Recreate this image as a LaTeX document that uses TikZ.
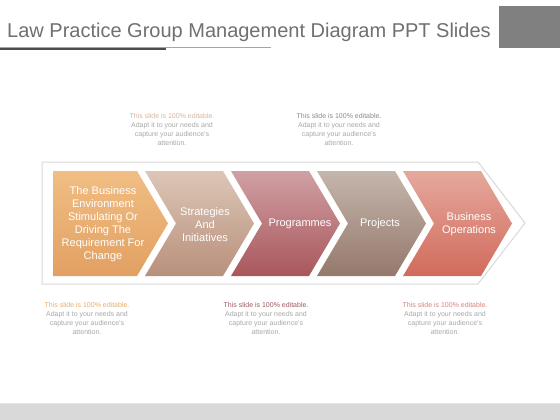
\documentclass[tikz,border=0pt]{standalone}
\usepackage{fontspec}
\setmainfont{Liberation Sans}
\definecolor{titlegray}{HTML}{707070}
\definecolor{capgray}{HTML}{A8A8A8}
\definecolor{c1t}{HTML}{F0BE84}\definecolor{c1b}{HTML}{E2A062}
\definecolor{c2t}{HTML}{DCC6B6}\definecolor{c2b}{HTML}{B8907C}
\definecolor{c3t}{HTML}{D0A0A4}\definecolor{c3b}{HTML}{A8575C}
\definecolor{c4t}{HTML}{C4B6AC}\definecolor{c4b}{HTML}{95786C}
\definecolor{c5t}{HTML}{E6A89C}\definecolor{c5b}{HTML}{D06B5C}
\definecolor{hA}{HTML}{D8B49C}\definecolor{hB}{HTML}{8A8A8A}
\definecolor{hC}{HTML}{E8AE6C}\definecolor{hD}{HTML}{9C5A62}\definecolor{hE}{HTML}{D6837A}
\tikzset{
  chevtext/.style={text=white, align=center, font=\fontsize{11}{13}\selectfont, inner sep=0pt},
  captext/.style={text=capgray, align=center, font=\fontsize{7}{9}\selectfont, inner sep=0pt}
}
\newcommand{\captxt}[1]{\textcolor{#1}{This slide is 100\% editable.}\\Adapt it to your needs and\\capture your audience's\\attention.}
\begin{document}
\begin{tikzpicture}[x=1pt,y=-1pt]
\useasboundingbox (0,0) rectangle (560,420);
\fill[white] (0,0) rectangle (560,420);
% title
\node[anchor=base west, text=titlegray, font=\fontsize{20}{24}\selectfont, inner sep=0pt] (title) at (7,38) {Law Practice Group Management Diagram PPT Slides};
\draw[gray!70, line width=0.7pt] (0,47.5) -- (271,47.5);
\draw[black!70, line width=2pt] (0,49.5) -- (166,49.5);
\fill[black!50] (499,6) rectangle (560,48);
% bottom band
\fill[black!15] (0,404) rectangle (560,420);
\draw[black!10] (0,403.5) -- (560,403.5);
% frame
\draw[fill=white, draw=black!15, line width=1pt] (42,162) -- (478,162) -- (525,223) -- (478,284) -- (42,284) -- cycle;
% chevrons
\shade[top color=c1t, bottom color=c1b] (53,171) -- (137,171) -- (168,223.5) -- (137,276) -- (53,276) -- cycle;
\shade[top color=c2t, bottom color=c2b] (145,171) -- (223,171) -- (254,223.5) -- (223,276) -- (145,276) -- (176,223.5) -- cycle;
\shade[top color=c3t, bottom color=c3b] (231,171) -- (309,171) -- (340,223.5) -- (309,276) -- (231,276) -- (262,223.5) -- cycle;
\shade[top color=c4t, bottom color=c4b] (317,171) -- (395,171) -- (426,223.5) -- (395,276) -- (317,276) -- (348,223.5) -- cycle;
\shade[top color=c5t, bottom color=c5b] (403,171) -- (481,171) -- (512,223.5) -- (481,276) -- (403,276) -- (434,223.5) -- cycle;
% chevron labels
\node[chevtext] (t1) at (103,224.5) {The Business\\Environment\\Stimulating Or\\Driving The\\Requirement For\\Change};
\node[chevtext] (t2) at (205,224.5) {Strategies\\And\\Initiatives};
\node[chevtext] (t3) at (300,223.5) {Programmes};
\node[chevtext] (t4) at (380,223.5) {Projects};
\node[chevtext] (t5) at (469,224.5) {Business\\Operations};
% captions
\node[captext] (capA) at (172,129.5) {\captxt{hA}};
\node[captext] (capB) at (339,129.5) {\captxt{hB}};
\node[captext] (capC) at (87,318) {\captxt{hC}};
\node[captext] (capD) at (266,318) {\captxt{hD}};
\node[captext] (capE) at (445,318) {\captxt{hE}};
\end{tikzpicture}
\end{document}
